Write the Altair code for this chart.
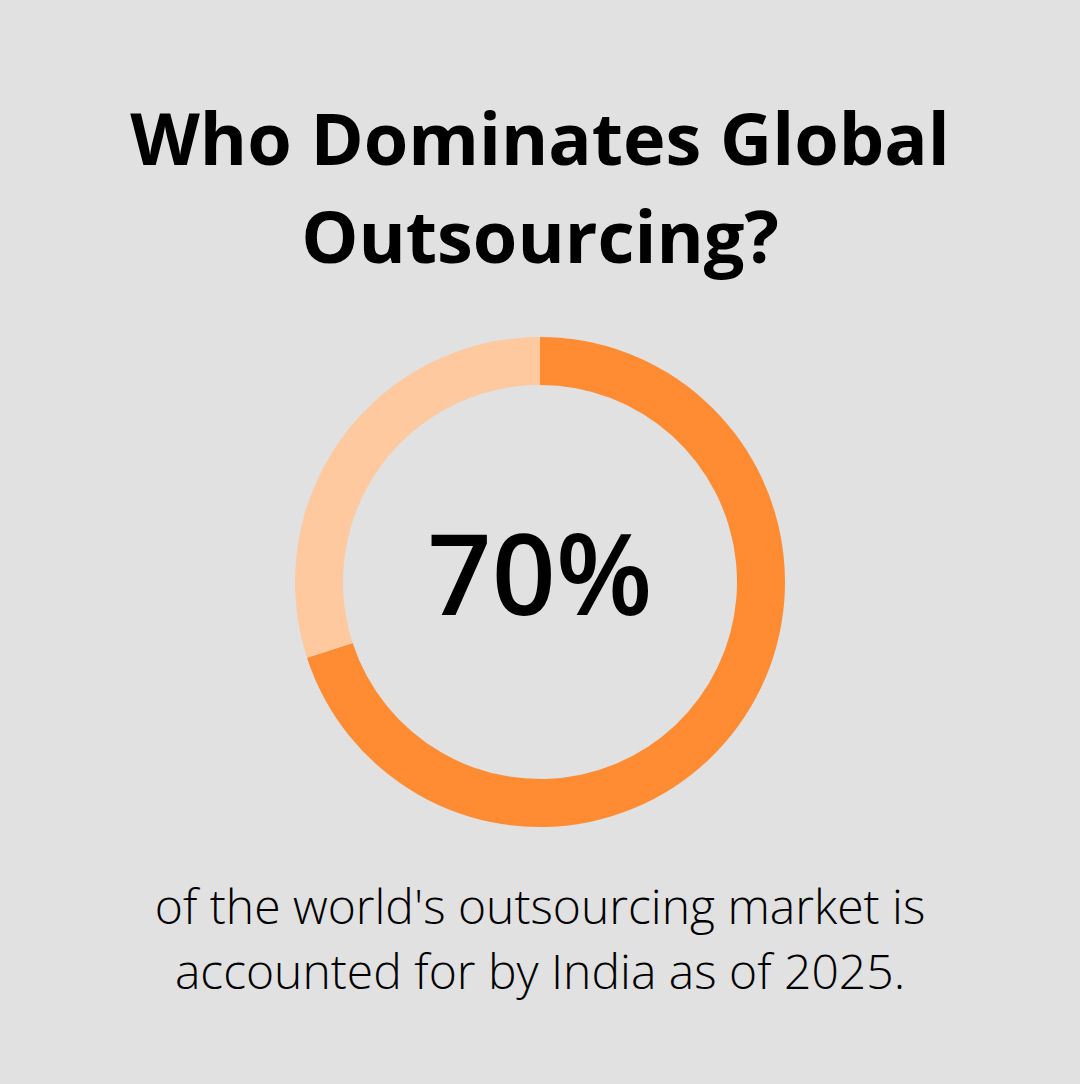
import altair as alt
import pandas as pd

segments = ["India", "Rest of world"]
shares = [70, 30]
seg_order = [1, 2]
seg_colors = ["#FF8C33", "#FEC99F"]

title_lines = ["Who Dominates Global", "Outsourcing?"]
big_label = "70%"
caption_lines = ["of the world's outsourcing market is", "accounted for by India as of 2025."]

BG = "#E0E1E0"
W, H = 1080, 1084

df = pd.DataFrame({"segment": segments, "share": shares, "ord": seg_order})

donut = alt.Chart(df).mark_arc(outerRadius=245, innerRadius=197).encode(
    theta=alt.Theta("share:Q", stack=True),
    order=alt.Order("ord:Q"),
    color=alt.Color("segment:N", scale=alt.Scale(domain=segments, range=seg_colors), legend=None),
    x=alt.value(540),
    y=alt.value(582),
)

def text_layer(lines, ys, size, weight, font="Open Sans"):
    d = pd.DataFrame({"t": lines, "yy": ys})
    return alt.Chart(d).mark_text(
        font=font, fontSize=size, fontWeight=weight, color="#000000",
        align="center", baseline="alphabetic",
    ).encode(
        text="t:N",
        x=alt.value(540),
        y=alt.Y("yy:Q", scale=alt.Scale(domain=[0, H], range=[0, H]), axis=None),
    )

title = text_layer(title_lines, [165, 263], 72, "bold")
big = text_layer([big_label], [615], 112, 600)
caption = text_layer(caption_lines, [924, 989], 48, 300)

chart = alt.layer(donut, title, big, caption).properties(
    width=W, height=H, background=BG, padding=0,
    autosize=alt.AutoSizeParams(type="none"),
).configure_view(stroke=None, fill=BG)

chart.save("out.html", embed_options={"renderer": "svg", "actions": False})
